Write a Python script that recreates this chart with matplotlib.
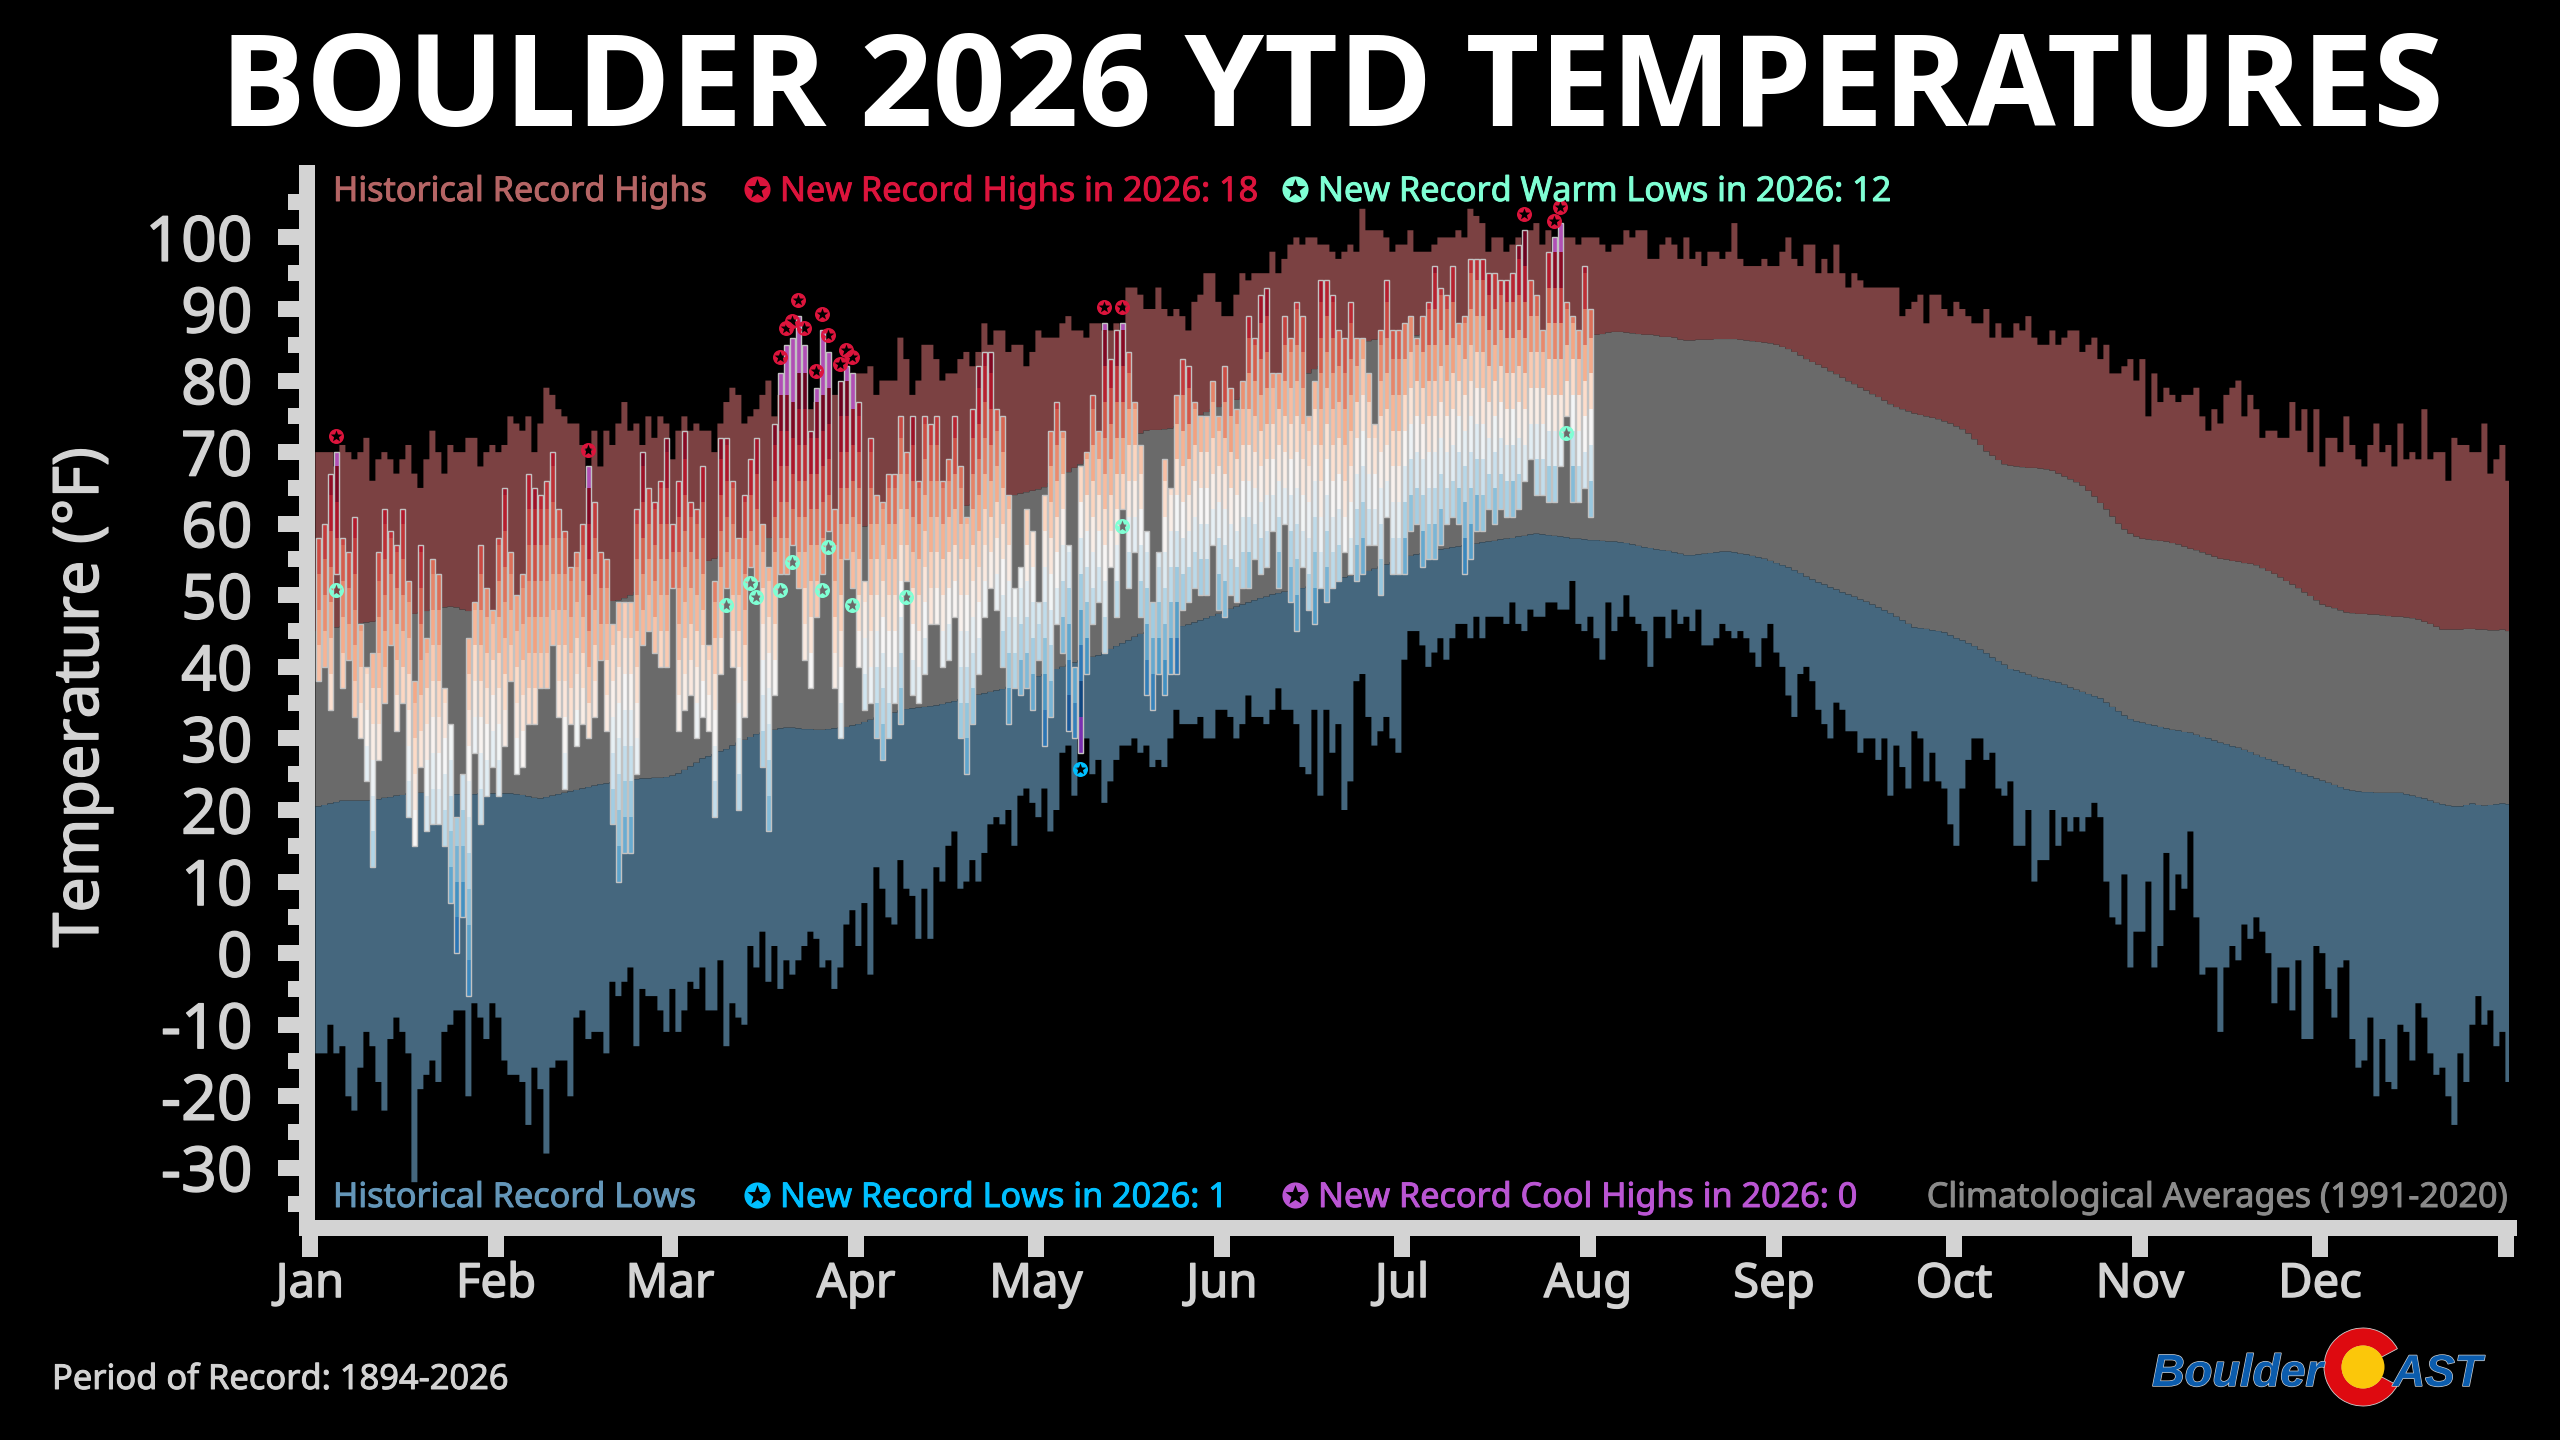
import numpy as np
import matplotlib
matplotlib.use("Agg")
import matplotlib.pyplot as plt
from matplotlib.path import Path
from matplotlib.patches import Wedge, Circle
import matplotlib.patheffects as pe

# ---------- data (deg F) ----------
high_2026 = [
58,60,67,70,58,56,61,46,40,42, 56,62,59,57,62,52,38,57,44,55,
53,37,32,19,25,44,49,57,51,48, 58,65,56,50,53,67,65,64,66,70,
62,59,54,56,60,68,63,56,55,46, 49,49,49,62,70,65,63,66,72,60,
66,73,63,62,68,43,52,72,72,66, 58,64,69,72,60,54,74,81,85,86,
89,85,73,79,87,84,62,80,82,81, 77,52,72,64,63,67,67,75,70,75,
66,75,74,75,66,69,75,68,61,76, 82,84,84,76,75,64,51,54,62,59,
49,64,73,77,73,57,40,68,70,78, 73,88,83,87,88,84,77,71,59,49,
56,69,65,78,83,82,77,75,75,80, 75,82,79,76,80,89,86,92,93,81,
81,89,86,91,89,75,80,94,94,92, 87,86,91,86,86,81,74,87,94,87,
87,88,89,86,89,91,96,93,92,96, 88,89,97,97,97,95,95,94,94,95,
99,101,94,92,87,98,100,102,91,89, 87,96,90]
low_2026 = [
38,40,34,53,37,41,33,30,24,12, 27,35,43,31,35,19,15,26,17,18,
18,15,7,0,5,-6,28,18,22,26, 22,29,38,25,26,32,32,37,37,43,
33,23,32,29,32,30,33,41,31,18, 10,14,14,25,43,45,42,40,40,51,
31,34,36,30,33,31,19,39,51,40, 20,33,54,52,26,17,36,53,53,57,
51,41,37,47,53,59,37,30,55,51, 40,34,35,30,27,30,35,32,52,36,
35,39,46,46,40,41,47,30,25,32, 39,47,51,48,40,32,37,36,37,34,
41,29,33,46,42,31,30,28,39,46, 49,42,54,47,62,51,56,47,36,34,
39,36,39,39,48,49,51,50,50,57, 48,47,50,49,51,51,55,53,54,59,
51,60,49,45,54,48,46,51,49,51, 52,56,53,52,53,57,57,50,61,53,
53,53,59,60,54,55,55,57,60,61, 60,53,55,59,59,62,60,62,61,61,
62,66,69,64,64,63,63,68,75,63, 63,65,61]
record_high = [
70,70,70,68,71,70,69,70,72,66, 69,70,69,67,69,71,67,65,69,73,
70,67,71,70,70,72,72,68,70,71, 70,71,75,74,73,75,70,74,79,78,
76,75,74,74,71,65,73,68,73,71, 74,77,73,74,71,75,72,75,74,69,
73,75,73,74,73,73,70,74,77,79, 78,74,75,76,78,80,75,78,78,77,
79,79,76,77,77,78,78,78,79,78, 81,81,82,78,80,80,80,86,83,78,
80,85,85,83,80,81,81,83,84,82, 84,88,85,87,87,84,85,85,82,84,
87,86,86,86,88,89,87,87,86,88, 88,87,87,88,87,93,93,92,90,90,
93,90,89,90,89,87,91,92,95,95, 91,89,89,92,95,94,95,95,95,98,
95,97,99,100,99,100,100,99,99,98, 97,98,99,98,104,101,101,101,100,98,
99,99,101,98,98,98,99,100,100,100, 101,100,104,103,102,98,100,100,98,99,
100,99,101,102,99,101,98,98,100,100, 99,
100,100,100,99,98,99,99,101,100, 101,101,97,97,99,100,99,97,100,97,
98,96,98,98,97,98,102,97,96,96, 96,97,96,96,98,100,97,96,99,99,
95,97,95,99,95,93,95,94,93,93, 93,93,93,93,89,90,91,92,88,92,
92,90,89,91,90,89,88,88,90,86, 88,86,86,88,87,89,86,85,85,87,
85,86,87,87,84,85,86,83,85,81, 81,82,83,80,83,75,81,77,79,78,
77,78,78,79,75,73,76,74,78,79, 80,75,78,76,72,73,73,72,72,77,
73,76,70,76,68,72,72,70,75,71, 69,68,71,74,70,71,68,74,69,70,
69,76,69,70,70,66,72,71,71,70, 70,74,67,69,71,66]
record_low = [
-14,-14,-10,-14,-13,-20,-22,-16,-11,-13, -18,-22,-12,-9,-11,-14,-32,-19,-17,-15,
-18,-11,-10,-8,-8,-20,-7,-9,-12,-7, -9,-15,-17,-17,-18,-24,-16,-19,-28,-16,
-15,-15,-20,-9,-8,-12,-11,-11,-14,-4, -6,-4,-2,-13,-5,-6,-6,-8,-11,-5,
-11,-8,-4,-5,-2,-8,-8,-1,-13,-7, -9,-10,1,-2,3,-4,1,-5,-1,-3,
-1,1,3,2,-2,-1,-5,-2,4,6, 1,7,-3,12,9,5,4,13,9,8,
2,9,2,12,10,15,17,9,10,13, 10,14,18,19,18,20,15,22,23,21,
19,23,17,20,28,29,22,33,30,25, 27,21,24,27,29,29,30,28,29,26,
27,26,30,34,32,32,32,33,30,30, 34,34,33,30,32,36,33,33,32,34,
37,34,34,32,26,25,34,22,34,28, 32,20,24,38,39,33,29,31,33,30,
28,41,45,45,43,40,42,44,41,44, 46,46,44,47,44,47,47,47,46,49,
46,45,48,47,47,49,49,48,48,52, 46,45,47,44,41,49,45,47,50,47,
46,45,40,47,47,44,48,46,47,45, 48,43,43,44,46,45,44,45,44,42,
40,44,46,42,40,36,33,39,40,38, 34,32,30,35,34,31,31,28,30,30,
27,30,22,29,26,23,31,30,24,28, 24,23,18,15,23,27,30,30,27,28,
23,22,24,15,15,20,10,13,13,20, 15,19,17,19,17,19,21,19,10,5,
4,11,-2,3,3,10,-2,1,14,6, 11,9,17,5,-3,-2,-2,-11,-2,1,
-1,4,2,5,3,0,-7,-2,-2,-8, -1,-12,-12,1,0,-5,-9,-2,-1,-12,
-16,-15,-9,-20,-12,-18,-19,-10,-11,-15, -7,-9,-14,-17,-16,-20,-24,-14,-18,-10,
-6,-10,-8,-13,-11,-18]
normal_high = [
45.0,45.2,45.4,45.5,45.7,45.8,46.0,46.1,
46.2,46.3,46.5,46.6,46.8,46.9,47.1,47.3,47.4,47.6,47.8,
48.0,48.2,48.3,48.4,48.3,48.0,47.8,
47.8,47.8,47.8,47.9,47.9,48.0,48.0,48.1,48.1,48.2,48.2,48.3,48.3,48.4,48.4,48.5,48.6,48.7,48.8,48.9,49.0,49.1,49.1,49.2,49.3,
49.6,50.0,50.4,50.8,51.2,51.6,52.0,52.4,52.8,53.2,53.6,54.0,54.3,54.6,54.8,
55.1,55.4,55.7,56.0,56.3,56.6,56.9,57.2,57.6,58.0,
58.1,58.2,58.3,58.4,58.5,58.6,58.7,58.8,58.9,59.0,59.1,59.2,59.3,59.4,59.5,59.6,59.7,59.8,59.9,60.0,
60.1,60.3,60.5,60.7,60.9,61.1,61.3,61.5,61.7,61.9,62.1,62.3,62.5,62.7,62.9,63.1,63.3,63.5,63.7,63.9,
64.0,64.2,64.4,64.6,64.8,65.1,65.6,66.1,66.8,67.2,67.8,68.3,
68.8,69.3,69.8,70.2,70.6,71.0,71.4,71.8,72.2,72.6,
73.0,73.1,73.1,73.2,73.3,
73.6,74.0,74.4,74.8,75.2,75.6,76.0,76.3,76.7,77.0,77.3,77.6,77.9,78.2,78.5,78.8,79.1,79.4,79.7,80.0,80.3,80.6,81.0,81.6,
82.0,82.5,82.9,83.3,83.7,84.1,84.5,85.0,85.5,
85.7,85.8,85.9,86.0,86.1,86.2,86.3,86.3,86.4,86.4,86.4,86.5,86.5,86.5,86.5,86.6,86.6,86.6,86.6,86.6,86.6,86.7,86.7,86.7,86.7,86.7,86.7,86.7,86.7,86.6,86.6,86.6,86.6,86.5,86.5,86.5,86.5,
86.4,86.5,86.7,86.8,86.8,86.7,86.6,86.5,86.4,86.4,
86.3,86.1,86.1,86.0,85.7,
85.6,85.6,85.7,85.7,85.7,85.8,85.8,85.8,85.8,85.7,
85.6,85.5,85.4,85.3,85.2,85.0,
84.7,84.4,84.0,83.5,83.0,
82.6,82.2,81.8,81.3,80.9,80.4,79.9,
79.5,79.0,78.6,78.1,77.7,77.2,76.7,
76.3,76.0,75.7,75.4,75.2,75.0,74.8,74.6,
74.3,74.0,73.6,73.2,
72.6,71.8,71.0,70.1,
69.5,68.9,68.3,
68.1,68.0,67.9,67.8,67.8,67.7,67.6,67.4,
67.0,66.6,66.2,65.8,65.3,
64.6,63.8,62.9,62.0,
61.0,60.0,59.2,
58.6,58.2,57.9,
57.8,57.7,57.6,57.5,57.3,57.1,
56.8,56.5,56.3,56.0,55.7,55.4,55.1,
55.0,54.8,54.7,54.5,54.4,54.2,
53.8,53.4,53.0,52.5,
52.0,51.5,51.0,50.4,49.9,49.3,48.7,
48.4,48.2,47.9,47.6,
47.5,47.4,47.4,47.3,47.3,47.2,47.1,47.0,47.0,46.9,46.8,46.6,
46.3,46.0,45.6,45.2,
45.2,45.2,45.2,45.3,45.3,45.2,45.2,45.1,45.1,45.2,45.0]
normal_low = [
20.5,20.7,20.9,21.1,21.3,21.3,21.3,21.3,
21.3,21.4,21.5,21.7,21.8,22.0,22.1,22.3,
22.3,22.4,22.4,22.4,22.4,22.3,22.3,22.2,22.2,
22.2,22.2,22.3,22.3,22.3,22.3,22.3,22.3,
22.2,22.1,21.9,21.7,21.6,
21.8,22.0,22.2,22.4,22.6,22.8,23.0,23.2,23.4,
23.6,23.7,23.9,24.0,24.2,24.3,
24.3,24.4,24.4,24.5,24.5,24.6,24.8,25.1,
25.6,26.1,26.6,27.2,
27.5,27.8,28.2,28.5,
29.0,29.4,29.8,30.2,30.6,
30.8,31.0,31.2,31.4,31.5,
31.5,31.4,31.3,31.3,31.2,
31.2,31.3,31.4,31.5,31.6,31.8,
32.0,32.3,32.6,32.9,33.2,33.4,33.6,33.9,34.1,
34.2,34.3,34.4,34.5,34.6,
34.8,35.0,35.2,35.5,35.7,
35.9,36.1,36.3,36.5,36.7,36.9,
37.2,37.5,37.8,38.1,38.4,38.7,39.0,39.3,39.7,
40.0,40.3,40.6,40.9,41.1,41.4,41.6,
42.0,42.5,42.9,43.3,43.7,44.2,44.6,
44.8,44.9,45.1,45.2,45.4,45.5,45.7,
45.9,46.2,46.5,46.8,47.1,47.4,47.7,48.1,48.4,
48.7,49.0,49.3,49.6,49.8,50.1,
50.3,50.5,50.6,50.8,51.0,51.2,51.5,51.7,51.9,52.1,52.3,52.5,52.7,52.9,53.1,53.4,
53.7,54.0,54.3,54.6,54.9,55.2,55.5,
55.7,55.9,56.1,56.2,56.4,56.5,56.7,56.8,57.0,57.1,
57.2,57.4,57.5,57.6,57.8,57.9,58.0,58.2,58.3,58.5,58.6,
58.5,58.4,58.3,58.2,58.1,57.9,
57.9,57.8,57.7,57.7,57.6,57.5,57.5,57.4,57.3,57.1,56.9,
56.7,56.6,56.4,56.3,56.2,56.0,55.8,55.6,
55.6,55.7,55.8,55.9,56.0,56.1,56.1,56.0,
55.8,55.7,55.5,55.3,
55.1,54.8,54.5,54.2,53.9,
53.5,53.1,52.6,52.2,51.8,
51.5,51.1,50.8,50.4,50.1,49.8,49.4,49.1,48.7,
48.3,47.9,47.5,47.0,46.5,46.0,45.5,
45.4,45.3,45.1,45.0,44.8,
44.4,44.0,43.7,43.3,42.9,
42.4,41.9,41.3,40.8,40.3,39.7,39.5,
39.2,38.9,38.6,38.4,38.2,38.0,37.8,
37.5,37.1,36.8,36.5,36.2,35.9,35.6,
35.0,34.4,33.8,33.2,32.7,
32.4,32.2,32.0,31.8,31.6,31.4,31.2,31.1,30.9,30.8,
30.5,30.2,30.0,29.7,29.4,29.2,28.9,28.7,28.4,28.1,27.7,
27.4,27.1,26.8,26.4,26.1,25.7,25.3,
25.0,24.7,24.4,24.1,23.8,23.5,23.2,22.9,22.7,
22.6,22.5,22.5,22.4,22.4,22.4,22.4,22.4,
22.2,22.0,21.8,21.6,21.3,21.0,20.8,
20.6,20.5,20.5,20.7,20.9,20.7,20.6,20.7,20.8,20.9,20.8]

new_record_high_days = [3,45,77,78,79,80,81,83,84,85,87,88,89,131,134,201,206,207]
new_warm_low_days = [3,68,72,73,77,79,84,85,89,98,134,208]
new_record_low_days = [127]

month_ticks = [0,31,60,91,121,152,182,213,244,274,305,335,366]
month_labels = ['Jan','Feb','Mar','Apr','May','Jun','Jul','Aug','Sep','Oct','Nov','Dec','']

FONT = 'Noto Sans'
plt.rcParams['font.family'] = [FONT, 'DejaVu Sans']
plt.rcParams['axes.unicode_minus'] = False
GREY = '#d3d3d3'
W, H = 2560, 1440
fig = plt.figure(figsize=(12.8, 7.2), dpi=200, facecolor='black')
ax = fig.add_axes([307/W, 1-1228/H, 2202/W, 1055/H], facecolor='black')

# ---------- climatology bands ----------
rh = np.array(record_high, float)
rl = np.array(record_low, float)
nh = np.array(normal_high, float)
nl = np.array(normal_low, float)
X0 = 1.4
edges = np.arange(len(rh)+1) + X0 - 0.5
ax.stairs(rh, edges, baseline=nh, fill=True, color='#7b4142', lw=0, zorder=1)
ax.stairs(nh, edges, baseline=nl, fill=True, color='#6a6a6a', lw=0, zorder=1)
ax.stairs(nl, edges, baseline=rl, fill=True, color='#45677e', lw=0, zorder=1)

# ---------- 2026 bars, 5 degree segments from each day's low ----------
cmap = plt.get_cmap('RdBu_r')
hi = np.array(high_2026, float)
lo = np.array(low_2026, float)
sx, sb, sh, sc = [], [], [], []
for i in range(len(hi)):
    b = lo[i]
    while b < hi[i]:
        t = min(b + 5, hi[i])
        m = (b + t)/2
        if m > rh[i]:
            c = '#b04fb5'
        elif m < rl[i]:
            c = '#7a2fb0'
        else:
            c = cmap((m - rl[i])/(rh[i] - rl[i]))
        sx.append(i + X0); sb.append(b); sh.append(t - b); sc.append(c)
        b = t
BW = 0.95
ax.bar(sx, sh, bottom=sb, width=BW, color=sc, linewidth=0, zorder=3)
ax.bar(np.arange(len(hi)) + X0, hi - lo, bottom=lo, width=BW, fill=False,
       edgecolor='#c2c2c2', linewidth=0.5, zorder=4)

# ---------- star markers: disc with a star shaped hole ----------
circ = Path.circle((0, 0), 1.0)
st = Path.unit_regular_star(5, 0.42)
sv = st.vertices[:-1][::-1] * 0.8
sv = np.vstack([sv, sv[0]])
sc_codes = [Path.MOVETO] + [Path.LINETO]*(len(sv)-2) + [Path.CLOSEPOLY]
STAR = Path(np.vstack([circ.vertices, sv]), list(circ.codes) + sc_codes)
OFF = 2.3
ms = 5.4
d = np.array(new_record_high_days)
ax.plot(d + X0, hi[d] + OFF, ls='', marker=STAR, ms=ms, mfc='#dc143c', mew=0, zorder=6, clip_on=False)
d = np.array(new_warm_low_days)
ax.plot(d + X0, lo[d] - OFF, ls='', marker=STAR, ms=ms, mfc='#7fffd4', mew=0, zorder=6, clip_on=False)
d = np.array(new_record_low_days)
ax.plot(d + X0, lo[d] - OFF, ls='', marker=STAR, ms=ms, mfc='#00bfff', mew=0, zorder=6, clip_on=False)

# ---------- axes ----------
ax.set_xlim(-0.5, 366.5)
ax.set_ylim(-38.4, 109.0)
for s in ('top', 'right'):
    ax.spines[s].set_visible(False)
for s in ('left', 'bottom'):
    ax.spines[s].set_linewidth(5.76)
    ax.spines[s].set_color(GREY)
    ax.spines[s].set_zorder(8)
ax.set_xticks(month_ticks)
ax.set_xticklabels(month_labels)
ax.set_yticks(np.arange(-30, 101, 10))
ax.set_yticklabels([str(v) for v in np.arange(-30, 101, 10)])
ax.set_yticks(np.arange(-35, 106, 10), minor=True)
ax.tick_params(axis='y', which='major', length=10.6, width=5.76, color=GREY,
               labelcolor=GREY, labelsize=22.5, pad=9)
ax.tick_params(axis='y', which='minor', length=6.8, width=5.76, color=GREY)
ax.tick_params(axis='x', which='major', length=10.4, width=5.76, color=GREY,
               labelcolor=GREY, labelsize=17, pad=1.5)
ax.set_axisbelow(False)


def heavier(c, w=0.35):
    """Thin same-colour outline: the reference face is a little heavier than Noto Sans."""
    return [pe.withStroke(linewidth=w, foreground=c)]


for t in ax.get_xticklabels() + ax.get_yticklabels():
    t.set_path_effects(heavier(GREY, 0.5))

# ---------- figure overlay in pixel coordinates ----------
ov = fig.add_axes([0, 0, 1, 1], facecolor='none', zorder=10)
ov.set_xlim(0, W); ov.set_ylim(H, 0); ov.axis('off')

ov.text(1332, 93, 'BOULDER 2026 YTD TEMPERATURES', color='white', fontsize=46,
        fontweight='bold', ha='center', va='center', family='Open Sans')
ov.text(82, 697, 'Temperature (°F)', color=GREY, fontsize=22.6, rotation=90,
        ha='center', va='center', path_effects=heavier(GREY, 0.5))

LS = 12.3
def lab(x, y, s, c, ha='left'):
    ov.text(x, y, s, color=c, fontsize=LS, ha=ha, va='center', path_effects=heavier(c))
lab(333, 192, 'Historical Record Highs', '#b56565')
lab(780, 192, 'New Record Highs in 2026: 18', '#dc143c')
lab(1318, 192, 'New Record Warm Lows in 2026: 12', '#7fffd4')
lab(333, 1198, 'Historical Record Lows', '#6496b8')
lab(780, 1198, 'New Record Lows in 2026: 1', '#00bfff')
lab(1318, 1198, 'New Record Cool Highs in 2026: 0', '#ba55d3')
lab(2508, 1198, 'Climatological Averages (1991-2020)', '#8a8a8a', ha='right')
for (x, y, c) in [(757, 189, '#dc143c'), (1295, 189, '#7fffd4'),
                  (757, 1195, '#00bfff'), (1295, 1195, '#ba55d3')]:
    ov.plot([x], [y], ls='', marker=STAR, ms=9.4, mfc=c, mew=0)
ov.text(52, 1380, 'Period of Record: 1894-2026', color=GREY, fontsize=12.4, ha='left', va='center',
        path_effects=heavier(GREY))

# ---------- logo ----------
BL = '#0b5cad'
stroke = [pe.withStroke(linewidth=0.5, foreground='#d0d0d0')]
ov.text(2152, 1386, 'Boulder', color=BL, fontsize=16.3, style='italic', fontweight='bold',
        family='Liberation Sans', ha='left', va='baseline', path_effects=stroke)
ov.text(2393, 1386, 'AST', color=BL, fontsize=16, style='italic', fontweight='bold',
        family='Liberation Sans', ha='left', va='baseline', path_effects=stroke)
ov.add_patch(Wedge((2363, 1367), 39, 28, 332, width=18, facecolor='#de0a10',
                   edgecolor='#d0d0d0', lw=0.3))
ov.add_patch(Circle((2363, 1367), 21.5, facecolor='#fbc70a', edgecolor='none'))

fig.savefig('out.png', dpi=200, facecolor='black')
